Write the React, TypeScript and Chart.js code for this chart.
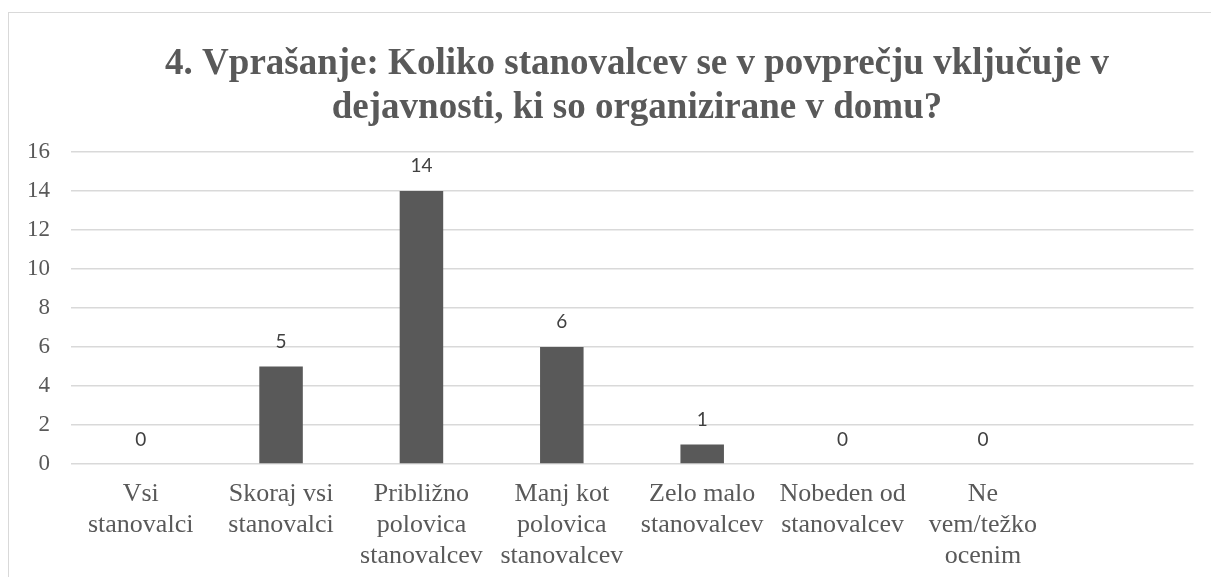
import React, { useEffect, useRef } from "react";
import { Chart, registerables } from "chart.js";

Chart.register(...registerables);

const categories: (string | string[])[] = [
  ["Vsi", "stanovalci"],
  ["Skoraj vsi", "stanovalci"],
  ["Približno", "polovica", "stanovalcev"],
  ["Manj kot", "polovica", "stanovalcev"],
  ["Zelo malo", "stanovalcev"],
  ["Nobeden od", "stanovalcev"],
  ["Ne", "vem/težko", "ocenim"],
  "",
];
const values: (number | null)[] = [0, 5, 14, 6, 1, 0, 0, null];
const titleLines = [
  "4. Vprašanje: Koliko stanovalcev se v povprečju vključuje v",
  "dejavnosti, ki so organizirane v domu?",
];
const yMin = 0;
const yMax = 16;
const yStep = 2;

const SERIF = "Liberation Serif";
const LABEL_FONT = "19px Lato";
const TEXT = "#595959";

Chart.defaults.font.family = SERIF;

const valueLabels = {
  id: "valueLabels",
  afterDatasetsDraw(chart: any) {
    const ctx = chart.ctx;
    const meta = chart.getDatasetMeta(0);
    const data = chart.data.datasets[0].data;
    ctx.save();
    ctx.font = LABEL_FONT;
    ctx.fillStyle = "#404040";
    ctx.textAlign = "center";
    ctx.textBaseline = "alphabetic";
    meta.data.forEach((bar: any, i: number) => {
      const v = data[i];
      if (v === null || v === undefined) return;
      ctx.fillText(String(v), bar.x, bar.y - 18.5);
    });
    ctx.restore();
  },
};

export default function App() {
  const ref = useRef<HTMLCanvasElement>(null);
  useEffect(() => {
    if (!ref.current) return;
    const chart = new Chart(ref.current, {
      type: "bar",
      data: {
        labels: categories,
        datasets: [
          {
            data: values,
            backgroundColor: "#595959",
            categoryPercentage: 1,
            barPercentage: 0.31,
          },
        ],
      },
      options: {
        responsive: false,
        animation: false,
        devicePixelRatio: 1,
        layout: { padding: 0 },
        font: { family: SERIF },
        plugins: {
          legend: { display: false },
          tooltip: { enabled: false },
          title: {
            display: true,
            text: titleLines,
            color: TEXT,
            font: { family: SERIF, size: 37, weight: "bold", lineHeight: 1.189 },
            padding: { top: 29.2, bottom: 21.8 },
          },
        },
        scales: {
          x: {
            grid: { display: false, drawTicks: false },
            border: { display: false },
            ticks: {
              color: TEXT,
              autoSkip: false,
              maxRotation: 0,
              minRotation: 0,
              padding: 14,
              font: { family: SERIF, size: 26, lineHeight: 1.21 },
            },
            afterFit: (s: any) => {
              s.height = 149;
            },
          },
          y: {
            min: yMin,
            max: yMax,
            grid: { color: "#d9d9d9", lineWidth: 1.5, drawTicks: false },
            border: { display: false },
            ticks: {
              stepSize: yStep,
              color: TEXT,
              padding: 20.5,
              font: { family: SERIF, size: 23 },
            },
            afterFit: (s: any) => {
              s.width = 61.5;
            },
          },
          yR: {
            position: "right",
            display: true,
            grid: { display: false, drawTicks: false },
            border: { display: false },
            ticks: { display: false },
            afterFit: (s: any) => {
              s.width = 71.5;
            },
          },
        },
      },
      plugins: [valueLabels],
    });
    return () => chart.destroy();
  }, []);

  return (
    <div
      style={{
        position: "fixed",
        left: 0,
        top: 0,
        width: 1211,
        height: 577,
        overflow: "hidden",
        background: "#ffffff",
      }}
    >
      <div
        style={{
          position: "absolute",
          left: 8,
          top: 12,
          width: 1258,
          height: 640,
          border: "1px solid #d9d9d9",
          boxSizing: "border-box",
          background: "#ffffff",
        }}
      >
        <canvas ref={ref} width={1256} height={600} style={{ display: "block" }} />
      </div>
    </div>
  );
}
